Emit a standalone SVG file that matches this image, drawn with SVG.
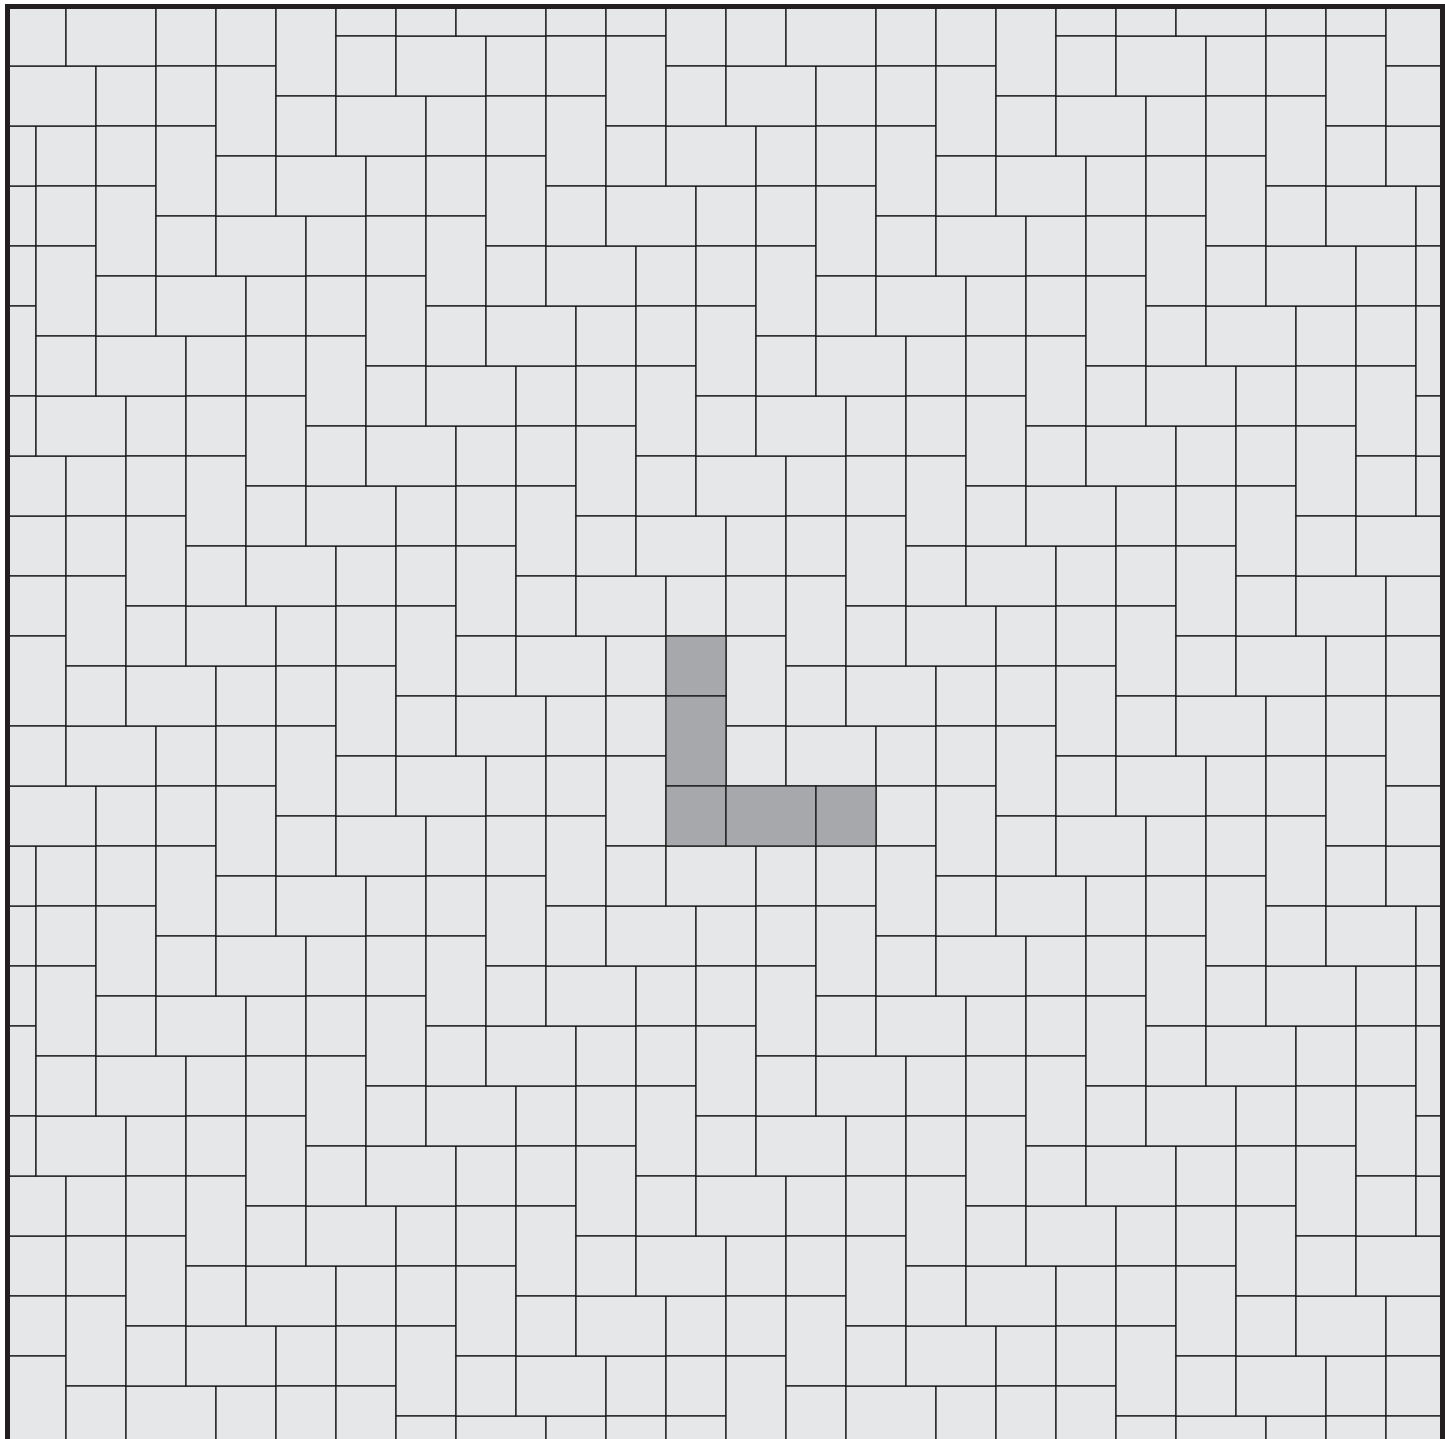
<svg xmlns="http://www.w3.org/2000/svg" xmlns:xlink="http://www.w3.org/1999/xlink" width="1445" height="1439" viewBox="0 0 1445 1439">
<style>
.tiles{fill:#e6e7e8;stroke:#1a1a1a;stroke-width:1.3}
.hl{fill:#a7a8ab}
.frame{fill:none;stroke:#231f20;stroke-width:5}
</style>
<defs>
<clipPath id="clip"><rect x="7.5" y="6.5" width="1435" height="1435"/></clipPath>
<g id="L">
<rect x="0" y="-150" width="60" height="60"/>
<rect x="0" y="-90" width="60" height="90"/>
<rect x="0" y="0" width="60" height="60"/>
<rect x="60" y="0" width="90" height="60"/>
<rect x="150" y="0" width="60" height="60"/>
</g>
</defs>
<rect x="0" y="0" width="1445" height="1439" fill="#ffffff"/>
<g id="tiling" class="tiles" clip-path="url(#clip)">
<use href="#L" x="-174" y="186"/>
<use href="#L" x="-114" y="126"/>
<use href="#L" x="-54" y="66"/>
<use href="#L" x="6" y="6"/>
<use href="#L" x="-144" y="516"/>
<use href="#L" x="-84" y="456"/>
<use href="#L" x="-24" y="396"/>
<use href="#L" x="36" y="336"/>
<use href="#L" x="96" y="276"/>
<use href="#L" x="156" y="216"/>
<use href="#L" x="216" y="156"/>
<use href="#L" x="276" y="96"/>
<use href="#L" x="336" y="36"/>
<use href="#L" x="396" y="-24"/>
<use href="#L" x="-174" y="906"/>
<use href="#L" x="-114" y="846"/>
<use href="#L" x="-54" y="786"/>
<use href="#L" x="6" y="726"/>
<use href="#L" x="66" y="666"/>
<use href="#L" x="126" y="606"/>
<use href="#L" x="186" y="546"/>
<use href="#L" x="246" y="486"/>
<use href="#L" x="306" y="426"/>
<use href="#L" x="366" y="366"/>
<use href="#L" x="426" y="306"/>
<use href="#L" x="486" y="246"/>
<use href="#L" x="546" y="186"/>
<use href="#L" x="606" y="126"/>
<use href="#L" x="666" y="66"/>
<use href="#L" x="726" y="6"/>
<use href="#L" x="-144" y="1236"/>
<use href="#L" x="-84" y="1176"/>
<use href="#L" x="-24" y="1116"/>
<use href="#L" x="36" y="1056"/>
<use href="#L" x="96" y="996"/>
<use href="#L" x="156" y="936"/>
<use href="#L" x="216" y="876"/>
<use href="#L" x="276" y="816"/>
<use href="#L" x="336" y="756"/>
<use href="#L" x="396" y="696"/>
<use href="#L" x="456" y="636"/>
<use href="#L" x="516" y="576"/>
<use href="#L" x="576" y="516"/>
<use href="#L" x="636" y="456"/>
<use href="#L" x="696" y="396"/>
<use href="#L" x="756" y="336"/>
<use href="#L" x="816" y="276"/>
<use href="#L" x="876" y="216"/>
<use href="#L" x="936" y="156"/>
<use href="#L" x="996" y="96"/>
<use href="#L" x="1056" y="36"/>
<use href="#L" x="1116" y="-24"/>
<use href="#L" x="6" y="1446"/>
<use href="#L" x="66" y="1386"/>
<use href="#L" x="126" y="1326"/>
<use href="#L" x="186" y="1266"/>
<use href="#L" x="246" y="1206"/>
<use href="#L" x="306" y="1146"/>
<use href="#L" x="366" y="1086"/>
<use href="#L" x="426" y="1026"/>
<use href="#L" x="486" y="966"/>
<use href="#L" x="546" y="906"/>
<use href="#L" x="606" y="846"/>
<use href="#L" x="726" y="726"/>
<use href="#L" x="786" y="666"/>
<use href="#L" x="846" y="606"/>
<use href="#L" x="906" y="546"/>
<use href="#L" x="966" y="486"/>
<use href="#L" x="1026" y="426"/>
<use href="#L" x="1086" y="366"/>
<use href="#L" x="1146" y="306"/>
<use href="#L" x="1206" y="246"/>
<use href="#L" x="1266" y="186"/>
<use href="#L" x="1326" y="126"/>
<use href="#L" x="1386" y="66"/>
<use href="#L" x="276" y="1536"/>
<use href="#L" x="336" y="1476"/>
<use href="#L" x="396" y="1416"/>
<use href="#L" x="456" y="1356"/>
<use href="#L" x="516" y="1296"/>
<use href="#L" x="576" y="1236"/>
<use href="#L" x="636" y="1176"/>
<use href="#L" x="696" y="1116"/>
<use href="#L" x="756" y="1056"/>
<use href="#L" x="816" y="996"/>
<use href="#L" x="876" y="936"/>
<use href="#L" x="936" y="876"/>
<use href="#L" x="996" y="816"/>
<use href="#L" x="1056" y="756"/>
<use href="#L" x="1116" y="696"/>
<use href="#L" x="1176" y="636"/>
<use href="#L" x="1236" y="576"/>
<use href="#L" x="1296" y="516"/>
<use href="#L" x="1356" y="456"/>
<use href="#L" x="1416" y="396"/>
<use href="#L" x="606" y="1566"/>
<use href="#L" x="666" y="1506"/>
<use href="#L" x="726" y="1446"/>
<use href="#L" x="786" y="1386"/>
<use href="#L" x="846" y="1326"/>
<use href="#L" x="906" y="1266"/>
<use href="#L" x="966" y="1206"/>
<use href="#L" x="1026" y="1146"/>
<use href="#L" x="1086" y="1086"/>
<use href="#L" x="1146" y="1026"/>
<use href="#L" x="1206" y="966"/>
<use href="#L" x="1266" y="906"/>
<use href="#L" x="1326" y="846"/>
<use href="#L" x="1386" y="786"/>
<use href="#L" x="996" y="1536"/>
<use href="#L" x="1056" y="1476"/>
<use href="#L" x="1116" y="1416"/>
<use href="#L" x="1176" y="1356"/>
<use href="#L" x="1236" y="1296"/>
<use href="#L" x="1296" y="1236"/>
<use href="#L" x="1356" y="1176"/>
<use href="#L" x="1416" y="1116"/>
<use href="#L" x="1326" y="1566"/>
<use href="#L" x="1386" y="1506"/>
<use id="highlight" href="#L" class="hl" x="666" y="786"/>
</g>
<rect id="frame" class="frame" x="7.5" y="6.5" width="1435" height="1435"/>
</svg>
